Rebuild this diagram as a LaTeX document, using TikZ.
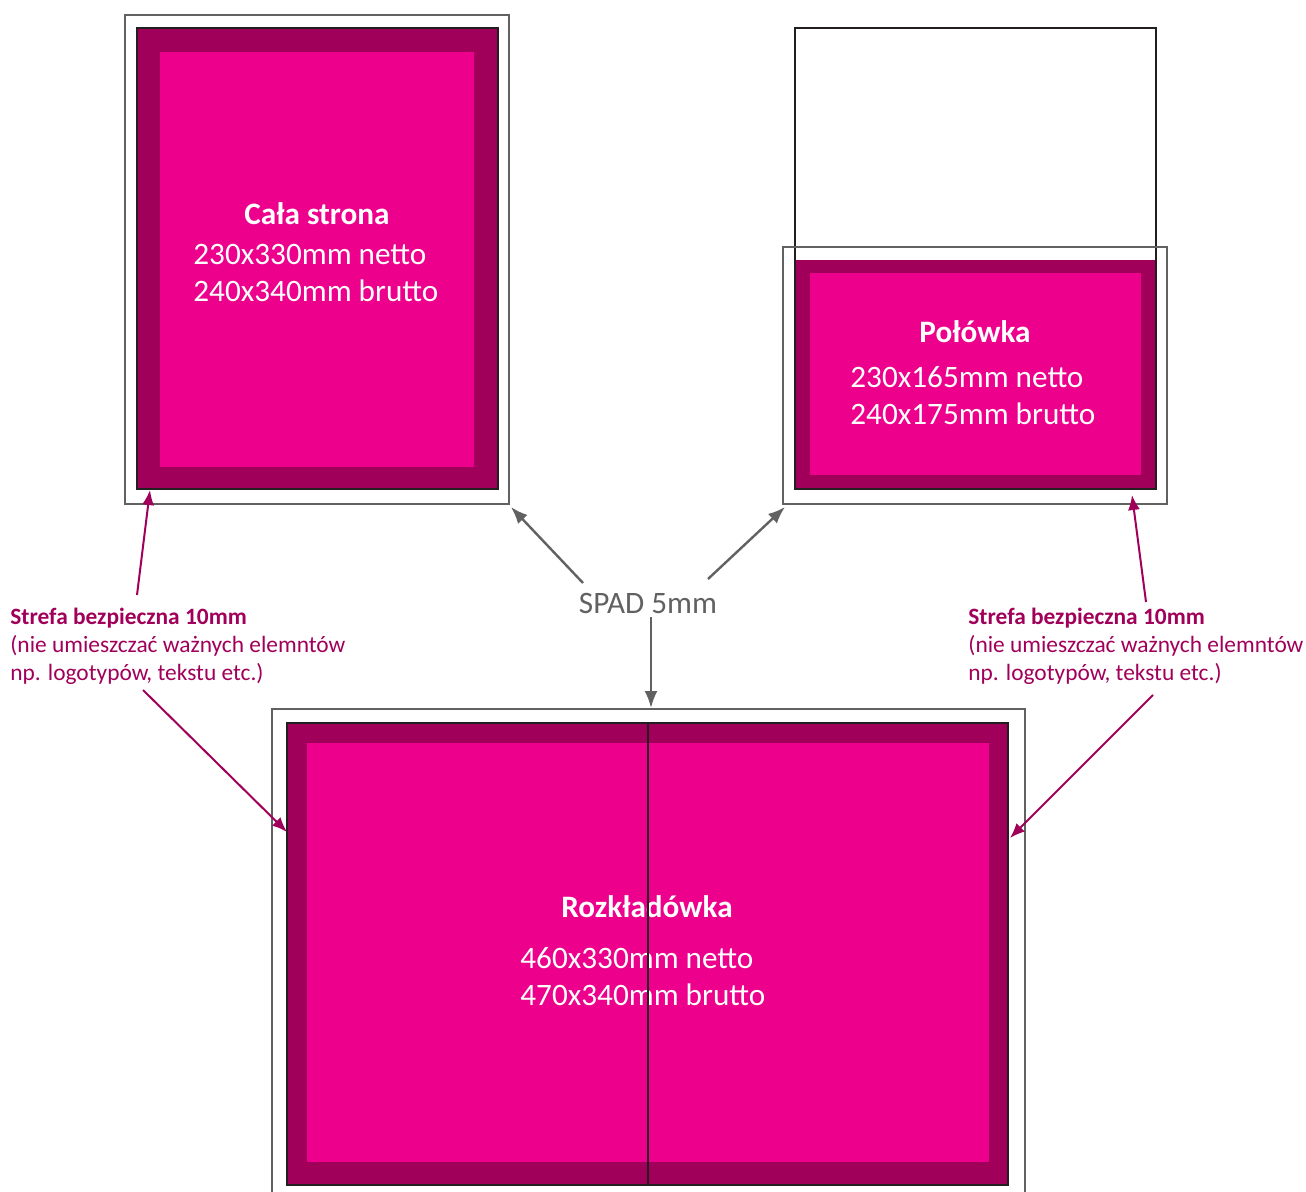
\documentclass[tikz,border=0pt]{standalone}
\usepackage{fontspec}
\setmainfont{Carlito}
\usetikzlibrary{arrows.meta}
\usetikzlibrary{positioning}
\definecolor{netpink}{HTML}{EC008C}
\definecolor{safepink}{HTML}{A0005A}
\definecolor{spadgray}{HTML}{616161}
\definecolor{pageblack}{HTML}{231F20}
\newcommand{\Bigtext}{\fontsize{15.6}{18.5}\selectfont}
\newcommand{\Notetext}{\fontsize{11.7}{14}\selectfont}

\begin{document}
\begin{tikzpicture}[x=0.5pt,y=-0.5pt,
  bleed/.style={draw=spadgray,line width=1pt},
  safe/.style={fill=safepink,draw=pageblack,line width=1pt},
  net/.style={fill=netpink},
  boxtitle/.style={font=\Bigtext\bfseries,text=white,inner sep=0pt,anchor=base},
  boxsize/.style={font=\Bigtext,text=white,inner sep=0pt,align=left,anchor=base west},
  note/.style={font=\Notetext,text=safepink,inner sep=0pt,align=left,anchor=base west},
  spadarrow/.style={draw=spadgray,line width=1.2pt,-{Latex[length=8.5pt,width=6.5pt]}},
  notearrow/.style={draw=safepink,line width=1pt,-{Latex[length=7.5pt,width=6pt]}}]
%\draw [help lines] (0,0) grid (1306,1192);
\useasboundingbox (0,0) rectangle (1306,1192);

% Cala strona
\draw[bleed] (125,15) rectangle (509,504);
\draw[safe] (137,28) rectangle (498,489);
\fill[net] (160,52) rectangle (474,467);
\node[boxtitle]                (calaT) at (317,225) {Cała strona};
\node[boxsize]                 (calaS) at (193,302) {230x330mm netto\\240x340mm brutto};

% Polowka
\draw[draw=pageblack,line width=1pt,fill=white] (795,28) rectangle (1156,489);
\fill[safepink] (795,260) rectangle (1156,489);
\draw[draw=pageblack,line width=1pt] (795,28) rectangle (1156,489);
\draw[bleed] (783,247) rectangle (1167,504);
\fill[net] (810,273) rectangle (1141,475);
\node[boxtitle]                (polT) at (975,343) {Połówka};
\node[boxsize]                 (polS) at (850,424) {230x165mm netto\\240x175mm brutto};

% Rozkladowka
\draw[bleed] (272,709) rectangle (1025,1210);
\draw[safe] (287,723) rectangle (1008,1185);
\fill[net] (307,743) rectangle (989,1162);
\node[boxtitle]                (rozT) at (647,917) {Rozkładówka};
\node[boxsize]                 (rozS) at (520,1005) {460x330mm netto\\470x340mm brutto};
\coordinate (fold top) at (648,723);
\coordinate (fold bottom) at (648,1185);
\draw[pageblack,line width=1pt] (fold top) -- (fold bottom);

% Spad
\node[font=\Bigtext,text=spadgray,inner sep=0pt,anchor=base] (spad) at (648,613) {SPAD 5mm};
\coordinate (spadL) at (583,583);
\coordinate (spadR) at (708,579);
\coordinate (spadD) at (651,617);
\coordinate (calaBleed) at (511,507);
\coordinate (polBleed) at (785,507);
\coordinate (rozBleed) at (651,708);
\draw[spadarrow] (spadL) -- (calaBleed);
\draw[spadarrow] (spadR) -- (polBleed);
\draw[spadarrow] (spadD) -- (rozBleed);

% Strefa bezpieczna
\node[note] (noteL) at (10,680) {\textbf{Strefa bezpieczna 10mm}\\(nie umieszczać ważnych elemntów\\np. logotypów, tekstu etc.)};
\node[note] (noteR) at (968,680) {\textbf{Strefa bezpieczna 10mm}\\(nie umieszczać ważnych elemntów\\np. logotypów, tekstu etc.)};
\coordinate (noteL top) at (137,595);
\coordinate (noteL bottom) at (143,690);
\coordinate (noteR top) at (1146,602);
\coordinate (noteR bottom) at (1153,695);
\coordinate (calaSafe) at (150,490);
\coordinate (rozSafeL) at (287,832);
\coordinate (polSafe) at (1132,495);
\coordinate (rozSafeR) at (1010,838);
\draw[notearrow] (noteL top) -- (calaSafe);
\draw[notearrow] (noteL bottom) -- (rozSafeL);
\draw[notearrow] (noteR top) -- (polSafe);
\draw[notearrow] (noteR bottom) -- (rozSafeR);
\end{tikzpicture}
\end{document}
